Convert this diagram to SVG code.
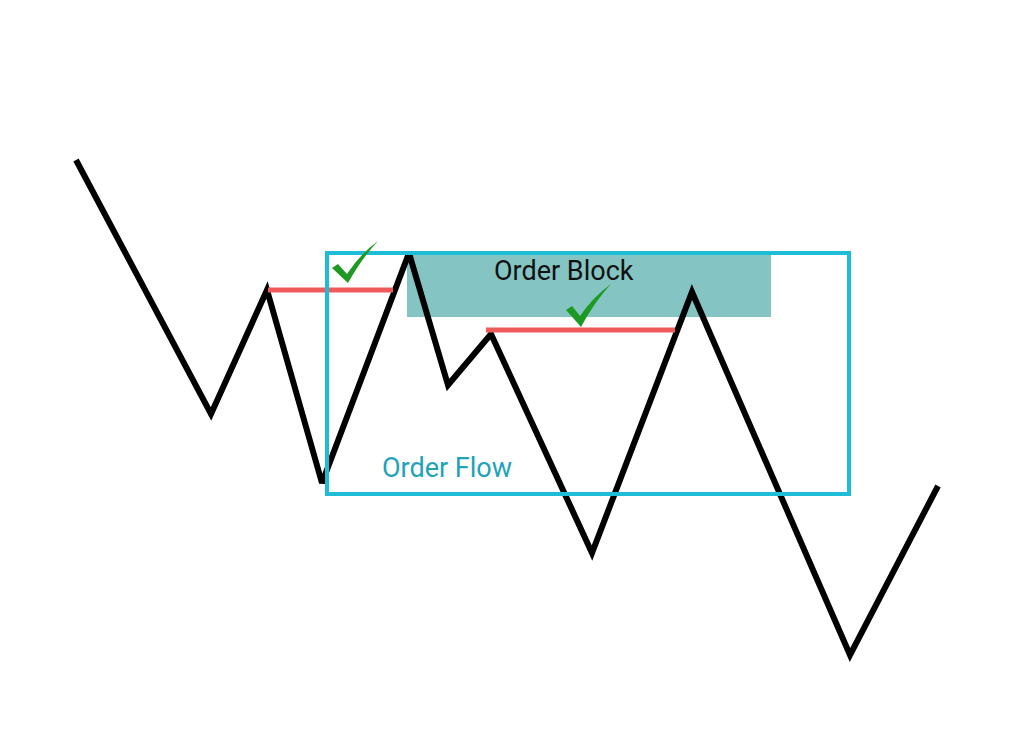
<svg xmlns="http://www.w3.org/2000/svg" width="1024" height="731" viewBox="0 0 1024 731">
<style>
.price{fill:none;stroke:#000;stroke-width:6;stroke-linejoin:miter;stroke-miterlimit:3}
.lvl{stroke:#ef5b5b;stroke-width:5}
.chk{fill:#1e9a24}
.lbl{font-family:Roboto,"Liberation Sans",sans-serif;font-size:27px}
</style>
<rect width="1024" height="731" fill="#fff"/>
<g id="order-block">
<rect x="407" y="251" width="364" height="66" fill="#84c4c3"/>
<text class="lbl" x="494" y="280" fill="#111">Order Block</text>
</g>
<g id="connectors">
<polyline class="price" points="76,160 211,414 267,290 322,483 409,253 448,385 491,334 592,553 692,292 850,655 938,486"/>
<line class="lvl" x1="268" y1="290" x2="393" y2="290"/>
<line class="lvl" x1="486" y1="330" x2="675" y2="330"/>
</g>
<g id="order-flow">
<rect x="327" y="253" width="522" height="241" fill="none" stroke="#1fbcd8" stroke-width="4"/>
<text class="lbl" x="382" y="477" fill="#1fa3b8">Order Flow</text>
</g>
<g id="check1">
<path class="chk" d="M332,268 L338,264 L347,274 Q360,254 378,241 Q362,258 348,283 Z"/>
</g>
<g id="check2">
<path class="chk" d="M566,310 L572,306 L580,316 Q593,297 611,284 Q595,301 581,327 Z"/>
</g>
</svg>
